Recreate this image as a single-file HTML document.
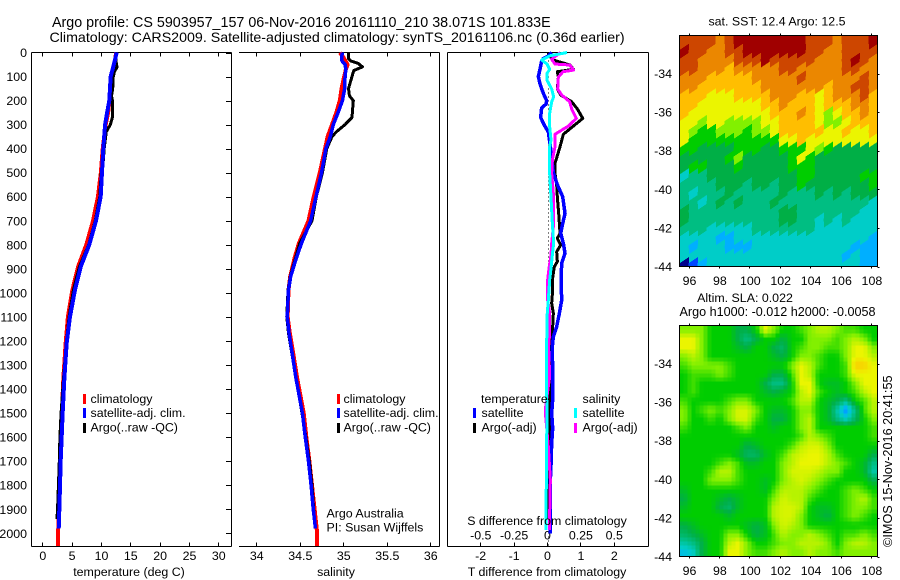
<!DOCTYPE html>
<html lang="en">
<head>
<meta charset="utf-8">
<title>Argo profile chart</title>
<style>
html,body{margin:0;padding:0;background:#fff;}
svg{display:block;}
text{font-family:"Liberation Sans",sans-serif;font-size:12.4px;fill:#000;}
</style>
</head>
<body>
<svg id="chart" width="900" height="580" viewBox="0 0 900 580" xmlns="http://www.w3.org/2000/svg">
<rect x="0" y="0" width="900" height="580" fill="#fff"/>
<text style="font-size:14.3px" x="52" y="27">Argo profile: CS 5903957_157 06-Nov-2016 20161110_210 38.071S 101.833E</text>
<text style="font-size:14.22px" x="49.5" y="42">Climatology: CARS2009. Satellite-adjusted climatology: synTS_20161106.nc (0.36d earlier)</text>

<g id="maps"></g>
<g id="profiles"></g>

<text x="129" y="576" text-anchor="middle">temperature (deg C)</text>
<text x="336" y="576" text-anchor="middle">salinity</text>
<text x="547" y="576" text-anchor="middle">T difference from climatology</text>
<text x="547" y="525" text-anchor="middle">S difference from climatology</text>

<g>
<rect x="83" y="394" width="3" height="10" fill="#f00"/>
<text x="90.5" y="403">climatology</text>
<rect x="83" y="408" width="3" height="10" fill="#00f"/>
<text x="90.5" y="417">satellite-adj. clim.</text>
<rect x="83" y="423" width="3" height="10" fill="#000"/>
<text x="90.5" y="431.5">Argo(..raw -QC)</text>
</g>
<g>
<rect x="337" y="394" width="3" height="10" fill="#f00"/>
<text x="343.5" y="403">climatology</text>
<rect x="337" y="408" width="3" height="10" fill="#00f"/>
<text x="343.5" y="417">satellite-adj. clim.</text>
<rect x="337" y="423" width="3" height="10" fill="#000"/>
<text x="343.5" y="431.5">Argo(..raw -QC)</text>
</g>
<text x="326.5" y="517.5">Argo Australia</text>
<text x="326.5" y="531.5">PI: Susan Wijffels</text>
<g>
<text x="481" y="403">temperature</text>
<rect x="473" y="408" width="3" height="10" fill="#00f"/>
<text x="481.5" y="417">satellite</text>
<rect x="473" y="423" width="3" height="10" fill="#000"/>
<text x="481.5" y="431.5">Argo(-adj)</text>
<text x="582.5" y="403">salinity</text>
<rect x="574" y="408" width="3" height="10" fill="#0ff"/>
<text x="582.5" y="417">satellite</text>
<rect x="574" y="423" width="3" height="10" fill="#f0f"/>
<text x="582.5" y="431.5">Argo(-adj)</text>
</g>

<text x="777" y="25.5" text-anchor="middle">sat. SST: 12.4 Argo: 12.5</text>
<text x="745" y="302" text-anchor="middle">Altim. SLA: 0.022</text>
<text style="font-size:12.6px" x="777.5" y="316" text-anchor="middle">Argo h1000: -0.012 h2000: -0.0058</text>
<text style="font-size:12.7px" transform="translate(892,547) rotate(-90)">©IMOS 15-Nov-2016 20:41:55</text>
</svg>

<script>
// ---------- depth axis ----------
const depthTicks = [0,100,200,300,400,500,600,700,800,900,1000,1100,1200,1300,1400,1500,1600,1700,1800,1900,2000];

// ---------- temperature panel ----------
const tempTicks = [0,5,10,15,20,25,30];
const tempDepths = [0,50,100,200,250,300,400,500,600,700,800,891,988,1099,1209,1355,1500,1600,1700,1800,1900,1980];
const tempSatellite = [12.68,12.2,11.65,11.42,11.05,10.7,10.4,10.17,9.95,9.15,8.0,6.55,5.57,4.72,4.15,3.76,3.47,3.3,3.13,3.02,2.9,2.8];
const tempClimDepths = [0,50,100,200,250,300,400,500,600,700,800,891,988,1099,1209,1355,1500,1600,1700,1800,1900,2000,2053];
const tempClim = [12.55,12.4,11.9,11.43,11.22,10.8,10.3,9.98,9.48,8.65,7.5,6.1,5.13,4.37,3.98,3.59,3.33,3.16,3.01,2.92,2.8,2.7,2.7];
const tempArgoDepths = [0,25,50,60,80,100,150,180,200,270,300,330,400,450,500,600,700,800,891,988,1099,1209,1355,1500,1600,1700,1800,1900,1940];
const tempArgo = [12.65,12.5,12.65,12.75,12.3,12.1,12.0,11.8,11.95,11.95,11.6,10.9,10.55,10.4,10.05,9.79,9.02,7.9,6.32,5.3,4.56,4.09,3.62,3.2,3.0,2.9,2.75,2.6,2.5];

// ---------- salinity panel ----------
const salTicks = [34,34.5,35,35.5,36];
const salSatDepths = [0,20,35,50,70,100,150,200,250,300,350,400,500,600,700,793,855,932,988,1099,1167,1265,1355,1500,1600,1700,1800,1900,1980];
const salSatellite = [34.99,34.98,34.985,35.02,35.03,35.02,35.016,34.99,34.94,34.885,34.85,34.80,34.75,34.686,34.625,34.52,34.46,34.395,34.37,34.356,34.376,34.418,34.456,34.53,34.563,34.6,34.63,34.655,34.68];
const salClimDepths = [0,20,50,70,100,150,200,250,300,350,400,500,600,700,793,855,932,988,1099,1167,1265,1355,1500,1600,1700,1800,1900,2000,2053];
const salClim = [34.96,35.0,35.05,35.03,35.01,34.98,34.96,34.92,34.87,34.82,34.79,34.73,34.66,34.60,34.49,34.44,34.39,34.37,34.36,34.385,34.43,34.47,34.545,34.575,34.61,34.64,34.67,34.70,34.70];
const salArgoDepths = [0,25,35,45,60,75,100,150,180,200,270,300,330,350,400,500,600,700,793,855,932,988,1099,1167,1265,1362,1500,1600,1700,1800,1900,1940];
const salArgo = [35.06,35.06,35.085,35.17,35.22,35.12,35.10,35.06,35.07,35.115,35.10,35.02,34.92,34.87,34.81,34.76,34.69,34.64,34.50,34.45,34.39,34.365,34.35,34.37,34.415,34.46,34.525,34.57,34.61,34.64,34.66,34.665];

// ---------- difference panel ----------
const dTTicks = [-2,-1,0,1,2];
const dTTickLabels = ['-2','-1','0','1','2'];
const dSTicks = [-0.5,-0.25,0,0.25,0.5];
const dSTickLabels = ['-0.5','-0.25','0','0.25','0.5'];
const dTSatDepths = [0,15,25,35,70,100,130,170,200,215,230,270,300,330,400,500,550,600,650,669,711,752,794,835,877,946,1030,1085,1140,1182,1224,1348,1445,1500,1563,1625,1716,1778,2000];
const dTSatellite = [.14,.04,-.11,-.16,-.21,-.26,-.21,-.11,-.01,-.03,-.16,-.19,-.09,.04,.11,.19,.31,.47,.52,.54,.47,.41,.49,.54,.44,.42,.44,.37,.29,.19,.16,.17,.17,.14,.17,.14,.12,.10,.10];
const dTArgoDepths = [0,30,52,70,80,102,152,177,205,235,274,306,340,392,461,503,552,603,669,711,752,773,801,829,870,891,946,988,1043,1085,1140,1182,1224,1348,1500,1700,1800,1940];
const dTArgo = [.05,.15,.69,.79,.31,.34,.31,.41,.74,.91,1.07,.79,.49,.39,.24,.24,.29,.31,.35,.37,.39,.31,.41,.29,.31,.22,.16,.17,.14,.19,.17,.17,.11,.07,.07,.07,.05,.05];
const dSArgoDepths = [0,28,48,52,73,80,102,152,177,205,235,274,306,340,392,448,503,603,711,794,842,898,946,1030,1085,1168,1224,1348,1473,1500,1640,1778,1917,1986];
const dSArgo = [.1,.035,.06,.17,.2,.12,.085,.08,.11,.17,.185,.22,.16,.06,.06,.04,.035,.05,.05,.035,.03,.015,.005,.005,.02,.02,.012,.02,-.01,-.012,.01,.025,.02,.02];
const dSSatDepths = [0,14,31,48,70,87,115,152,184,205,253,308,364,392,448,503,603,711,794,842,898,946,1030,1099,1168,1224,1348,1500,1640,1778,1986];
const dSSatellite = [.15,.02,-.04,0,.02,0,0,.035,.05,.035,.02,.02,.03,.02,.02,.02,.03,.04,.05,.04,.03,.02,.01,0,0,-.005,-.005,0,-.003,-.005,-.008];
const dTZeroLineValue = 0.05;

// ---------- map axes ----------
const lonTicks = [96,98,100,102,104,106,108];
const latTicks = [34,36,38,40,42,44];

// SST map colour classes by row (north to south)
const sstGrid = [
[11,11,11,11,10,11,12,12,12,12,12,12,12,12,11,11,11,10,11,11,11,12],
[12,11,11,10,10,11,11,12,12,12,12,12,12,12,11,11,10,10,11,11,11,11],
[11,11,10,10,10,10,11,11,11,12,11,11,11,11,11,10,10,10,11,12,11,10],
[11,11,10,10,10,9,10,10,10,10,10,11,11,10,10,10,10,10,11,11,10,10],
[10,10,10,9,9,9,9,9,10,10,10,10,10,11,10,10,10,10,10,10,11,10],
[10,10,9,9,9,9,9,9,9,10,10,10,10,10,10,10,9,10,10,11,11,10],
[9,9,9,8,8,8,9,9,9,9,10,10,10,9,9,8,9,10,10,10,11,9],
[9,9,8,8,8,8,8,8,8,9,9,10,9,9,9,8,9,9,9,10,10,9],
[9,8,8,8,8,8,8,8,8,8,9,9,9,10,9,8,7,8,9,9,10,9],
[8,8,7,8,8,7,7,7,7,8,8,9,9,9,9,8,7,7,8,9,9,9],
[8,7,6,6,7,7,7,6,7,7,8,9,9,9,9,9,8,8,9,8,8,9],
[8,6,6,6,6,6,6,6,6,6,6,8,8,9,8,8,8,8,8,8,8,8],
[6,6,5,5,5,5,6,6,6,5,5,6,6,6,8,7,6,5,5,5,5,5],
[5,5,5,5,5,6,7,5,5,5,5,5,6,8,6,5,5,5,5,5,5,5],
[5,6,6,5,5,5,6,5,5,5,5,5,6,6,6,5,5,5,5,5,5,5],
[3,4,4,5,5,5,5,5,5,5,5,5,5,6,6,5,5,5,5,5,6,6],
[4,4,4,4,5,5,5,4,5,5,4,5,5,6,5,5,5,5,5,5,5,6],
[4,3,4,4,4,5,4,4,4,4,4,5,4,4,4,5,4,5,4,5,5,5],
[4,4,3,4,5,4,5,4,4,4,5,4,4,4,4,4,4,4,4,4,4,3],
[5,4,4,4,4,4,4,4,4,4,4,5,5,4,4,4,4,4,4,4,3,3],
[5,4,4,4,4,4,4,4,4,4,4,5,5,4,4,3,4,3,4,3,3,3],
[4,4,4,3,3,3,3,3,4,4,4,4,4,4,4,3,3,3,3,3,3,3],
[3,3,3,3,2,2,3,3,3,3,3,3,3,3,3,3,3,3,3,3,3,2],
[3,2,3,3,3,2,2,2,3,3,3,3,3,3,3,3,3,3,3,2,2,2],
[3,3,3,3,3,3,3,3,3,3,3,3,3,3,3,3,3,3,2,3,2,2],
[0,1,2,3,3,3,3,3,3,3,3,3,3,3,3,3,3,3,3,3,2,2]
];

// SLA map colour classes by row (north to south)
const slaGrid = [
[7,7,7,6,6,6,5,5,6,8,7,6,6,6.5,7,7.5,7.5,7,6.5,6.5,6,6],
[8,8,7,6,6,6,5,4,5,6,6,5,6,6,7,7,7,6.5,7,7.5,7,6],
[8,8,7,6,6,6,5.5,5,6,6,5,4.5,6,6.5,7,7,6.5,6.5,7,8,8,7],
[7,7.5,7,6,6,6,6,6,6,6,5.5,5,6,7,7,6.5,6,6,7,8,8,7.5],
[6.5,7,7,7,7,6.5,6,6,6,6,6,6,7,8,7.5,6.5,6,6,6.5,8.7,8.7,8],
[6,6.5,6.5,6.5,7,6.5,6,6,6,6,5,5,6.5,8,7.5,6,6,6,6.5,8,8,8],
[6,6.5,6,6,6,6,6,6,6,5,4,4,6,8,8,6,5.5,5.5,6,7,8,8],
[6,6.5,6,6,6,6,6,6,6,5.5,5,5.5,6,7.5,8,6.5,6,5.5,6,6.5,7.5,8],
[6.5,6,6,6,6,6.5,7,7,6,6,6,6,6.5,7.5,7.5,6,5.5,5,4,6,6.5,7.5],
[7,6,6.5,7,6.5,7,7.8,7.8,7,6,5.5,5.5,6,7,7,6,5.5,3.5,1.5,4,6.5,7.5],
[7,6,6,6.5,6,7,7.8,7.8,6.5,6,5,5,6,7,7.5,6,5.5,4,3,4.5,6,7],
[6.5,6,6,6,6,6,6.5,7,6,6,5.5,6,6,7,7.5,6,6,6,6,6,6,6.5],
[6,6,6,6,6,6,6,6,6,6,6,6,6,6.5,7.5,7,6.5,6,6,6,6,6.5],
[6,6,6,6,6,6,6,5,5.5,6,6,6,6.5,7.5,7.8,7.8,7,6,6,6,6,6],
[6,6,6,6,6,6,5.5,4.5,4.5,5.5,6,6.5,7.5,7.8,8,8,7.5,6.5,6,6,6,5],
[6,6,6,6,6.5,7,6.5,5.5,5.5,6,6,7,7.5,8,8,8,7.5,7,6.5,6,5.5,4],
[6,6,6,6.5,7.5,7.5,6.5,6,6,6,6,7,7.8,7.8,7.8,7.5,7,7,6,6,5.5,3.5],
[6,6,6,7,7,7,6.5,6,6,5.5,6,7,7.5,7.8,7.5,7,6.5,6,6,6,6,5],
[5.5,6,6,6,6,6,6,6,6,5.5,6.5,7.5,7.5,7.5,7,6.5,6,6,6.5,7,6.5,6],
[5,6,6,6,5.5,5,5.5,6,6,6,7,7.8,7.5,7.5,6.5,6,6,6,6.5,7,7.5,6.5],
[5.5,6,6,6,5,4.5,5.5,6,6,6,7.5,7.8,7.8,7.5,6,5.5,5.5,6,6.5,7,7,6.5],
[6,6,6,6,6,5.5,6,6,6,6,7.5,7.8,7.8,7,6,5.5,5,6,6.5,7,6.5,6],
[5,5.5,6,6,6,6,6,5.5,5,5.5,7,7.8,7.5,7,6,6,6,6,6,6,6,6],
[4.5,5,5.5,6,6,7,7,6,5,5.5,6.5,7.5,7,7,7.5,7,6.5,6,6.5,6.5,7,6.5],
[3.5,4,5,6,6,7.5,8,7,6,6,6.5,7,7,7.5,7.5,7.5,7,6,7,7.5,7.5,7],
[2.5,3,5,6,6,8,8,7,6.5,6.5,7,7.5,7,7,7.5,7,7,6.5,7,7,7,7]
];

// ---------- helpers ----------
const SVGNS = 'http://www.w3.org/2000/svg';
const profilesLayer = document.getElementById('profiles');
const mapsLayer = document.getElementById('maps');

function make(tag, parent, name) {
  const el = document.createElementNS(SVGNS, tag);
  
  
  parent.appendChild(el);
  return el;
}
function line(parent, name, x1, y1, x2, y2, color, width) {
  const el = make('line', parent, name);
  el.setAttribute('x1', x1);
  el.setAttribute('y1', y1);
  el.setAttribute('x2', x2);
  el.setAttribute('y2', y2);
  el.setAttribute('stroke', color || '#000');
  el.setAttribute('stroke-width', width || 1);
  el.setAttribute('shape-rendering', 'crispEdges');
  return el;
}
function label(parent, name, x, y, str, anchor) {
  const el = make('text', parent, name);
  el.setAttribute('x', x);
  el.setAttribute('y', y);
  el.setAttribute('text-anchor', anchor || 'middle');
  el.textContent = str;
  return el;
}
function series(parent, name, depths, values, xScale, color, width) {
  const el = make('polyline', parent, name);
  el.setAttribute('points', values.map((v, i) => xScale(v) + ',' + yDepth(depths[i])).join(' '));
  el.setAttribute('fill', 'none');
  el.setAttribute('stroke', color);
  el.setAttribute('stroke-width', width);
  el.setAttribute('shape-rendering', 'crispEdges');
  el.setAttribute('stroke-linejoin', 'round');
  return el;
}

// ---------- scales ----------
const top_ = 52.5, bottom_ = 546.5;
const yDepth = d => top_ + d * 0.2404;
const xTemp = t => 42.3 + t * 5.867;
const xSal = s => 256.3 + (s - 34) * 87;
const xDT = t => 547 + t * 33.4;
const xDS = s => 547 + s * 133.5;

// ---------- panels ----------
function frame(name, left, right, hasLeft) {
  const g = make('g', profilesLayer, name);
  line(g, name + '-top-border', left, top_, right, top_);
  line(g, name + '-bottom-border', left, bottom_, right, bottom_);
  line(g, name + '-right-border', right, top_, right, bottom_);
  if (hasLeft) line(g, name + '-left-border', left, top_, left, bottom_);
  return g;
}
function xTicks(g, ticks, labels, scale, prefix) {
  ticks.forEach((t, i) => {
    const x = Math.round(scale(t)) + 0.5;
    line(g, prefix + '-top-tick', x, top_, x, top_ + 4);
    line(g, prefix + '-bottom-tick', x, bottom_ - 4, x, bottom_);
    label(g, prefix + '-tick-label', scale(t) + 0.5, 560, labels[i]);
  });
}

// temperature
const tempPanel = frame('temperature-panel', 31.5, 231.5, true);
xTicks(tempPanel, tempTicks, tempTicks.map(String), xTemp, 'temperature-axis');
depthTicks.forEach(d => {
  const y = Math.round(yDepth(d)) + 0.5;
  line(tempPanel, 'depth-tick-right', 226, y, 231, y);
  label(tempPanel, 'depth-tick-label', 27, yDepth(d) + 4.5, String(d), 'end');
});
series(tempPanel, 'temperature-climatology-line', tempClimDepths, tempClim, xTemp, '#f00', 4);
series(tempPanel, 'temperature-argo-line', tempArgoDepths, tempArgo, xTemp, '#000', 3);
series(tempPanel, 'temperature-satellite-line', tempDepths, tempSatellite, xTemp, '#00f', 4);

// salinity
const salPanel = frame('salinity-panel', 239, 439.5, false);
xTicks(salPanel, salTicks, salTicks.map(String), xSal, 'salinity-axis');
series(salPanel, 'salinity-climatology-line', salClimDepths, salClim, xSal, '#f00', 4);
series(salPanel, 'salinity-argo-line', salArgoDepths, salArgo, xSal, '#000', 3);
series(salPanel, 'salinity-satellite-line', salSatDepths, salSatellite, xSal, '#00f', 3.5);

// differences
const diffPanel = frame('difference-panel', 447.5, 648.5, true);
xTicks(diffPanel, dTTicks, dTTickLabels, xDT, 't-difference-axis');
dSTicks.forEach((s, i) => {
  label(diffPanel, 's-difference-tick-label', xDS(s) + 0.5, 539.5, dSTickLabels[i]);
});
const zeroLine = line(diffPanel, 'zero-reference-line', xDT(dTZeroLineValue), top_, xDT(dTZeroLineValue), bottom_);
zeroLine.setAttribute('stroke-dasharray', '1 3');
series(diffPanel, 't-difference-argo-line', dTArgoDepths, dTArgo, xDT, '#000', 3);
series(diffPanel, 't-difference-satellite-line', dTSatDepths, dTSatellite, xDT, '#00f', 3.5);
series(diffPanel, 's-difference-argo-line', dSArgoDepths, dSArgo, xDS, '#f0f', 3);
series(diffPanel, 's-difference-satellite-line', dSSatDepths, dSSatellite, xDS, '#0ff', 3);

// ---------- maps ----------
const colourStops = [[0,0,140],[0,70,255],[0,175,255],[0,205,200],[0,190,130],[0,175,70],[0,205,0],[130,240,0],[235,245,0],[255,190,0],[235,135,0],[205,70,0],[160,0,0]];
function levelColour(v) {
  const k = Math.max(0, Math.min(colourStops.length - 1, v));
  const i = Math.min(colourStops.length - 2, Math.floor(k));
  const f = k - i;
  const c = colourStops[i].map((a, n) => Math.round(a + (colourStops[i + 1][n] - a) * f));
  return 'rgb(' + c.join(',') + ')';
}
const mapLeft = 679.5, mapRight = 877.5;
const xLon = lon => 688.5 + (lon - 96) * 15.2;
function mapAxes(g, name, top, bottom, latY, labelBaseline) {
  const box = make('rect', g, name + '-frame');
  box.setAttribute('x', mapLeft);
  box.setAttribute('y', top);
  box.setAttribute('width', mapRight - mapLeft);
  box.setAttribute('height', bottom - top);
  box.setAttribute('fill', 'none');
  box.setAttribute('stroke', '#000');
  box.setAttribute('shape-rendering', 'crispEdges');
  lonTicks.forEach(lon => {
    const x = Math.round(xLon(lon)) + 0.5;
    line(g, name + '-lon-tick-top', x, top - 2, x, top);
    line(g, name + '-lon-tick-bottom', x, bottom, x, bottom + 2);
    label(g, name + '-lon-tick-label', xLon(lon) + 1, labelBaseline, String(lon));
  });
  latTicks.forEach(lat => {
    const y = Math.round(latY(lat)) + 0.5;
    line(g, name + '-lat-tick-right', mapRight, y, mapRight + 2, y);
    label(g, name + '-lat-tick-label', 672, latY(lat) + 4.5, '-' + lat, 'end');
  });
}

// SST map: one slanted cell per grid value
const sstGroup = make('g', mapsLayer, 'sst-map');
const sstTop = 35.5, sstBottom = 266.5, sstSlant = 6;
sstGrid.forEach((row, r) => {
  const h = (sstBottom - sstTop) / sstGrid.length;
  const y = sstTop + r * h;
  row.forEach((v, c) => {
    const w = (mapRight - mapLeft) / row.length;
    const x = mapLeft + c * w;
    const first = r === 0;
    const last = r === sstGrid.length - 1;
    const topL = first ? sstTop : y + sstSlant;
    const topR = first ? sstTop : y;
    const botL = last ? sstBottom : y + h + sstSlant;
    const botR = last ? sstBottom : y + h;
    const cell = make('polygon', sstGroup, 'sst-cell');
    cell.setAttribute('points', x + ',' + topL + ' ' + (x + w) + ',' + topR + ' ' + (x + w) + ',' + botR + ' ' + x + ',' + botL);
    cell.setAttribute('fill', levelColour(v));
    cell.setAttribute('stroke', levelColour(v));
    cell.setAttribute('stroke-width', 0.5);
    cell.setAttribute('shape-rendering', 'crispEdges');
  });
});
mapAxes(sstGroup, 'sst-map', sstTop, sstBottom, lat => 73.5 + (lat - 34) * 19.3, 285);

// SLA map: grid values sampled bilinearly into small display cells
const slaGroup = make('g', mapsLayer, 'sla-map');
const slaTop = 325.5, slaBottom = 556.5;
function slaAt(u, v) {
  const rows = slaGrid.length, cols = slaGrid[0].length;
  const ru = Math.max(0, Math.min(rows - 1.001, v * rows - 0.5));
  const cu = Math.max(0, Math.min(cols - 1.001, u * cols - 0.5));
  const r = Math.floor(ru), c = Math.floor(cu), fr = ru - r, fc = cu - c;
  return slaGrid[r][c] * (1 - fr) * (1 - fc) + slaGrid[r][c + 1] * (1 - fr) * fc + slaGrid[r + 1][c] * fr * (1 - fc) + slaGrid[r + 1][c + 1] * fr * fc;
}
const slaPixel = 4;
for (let y = slaTop; y < slaBottom; y += slaPixel) {
  for (let x = mapLeft; x < mapRight; x += slaPixel) {
    const cell = make('rect', slaGroup, 'sla-cell');
    const w = Math.min(slaPixel, mapRight - x);
    const h = Math.min(slaPixel, slaBottom - y);
    cell.setAttribute('x', x);
    cell.setAttribute('y', y);
    cell.setAttribute('width', w);
    cell.setAttribute('height', h);
    cell.setAttribute('fill', levelColour(slaAt((x + w / 2 - mapLeft) / (mapRight - mapLeft), (y + h / 2 - slaTop) / (slaBottom - slaTop))));
    cell.setAttribute('shape-rendering', 'crispEdges');
  }
}
mapAxes(slaGroup, 'sla-map', slaTop, slaBottom, lat => 363.5 + (lat - 34) * 19.3, 575);
</script>
</body>
</html>
